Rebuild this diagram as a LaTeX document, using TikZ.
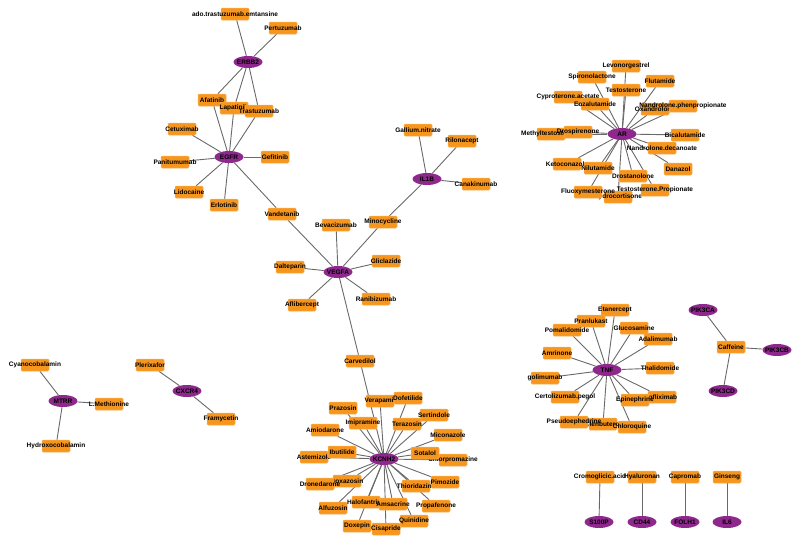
\documentclass[tikz,border=0pt]{standalone}
\usepackage{fontspec}
\newfontfamily\netfont{Liberation Sans}
\usepackage{tikz}
\usetikzlibrary{shapes.geometric,backgrounds}

\definecolor{genecol}{RGB}{142,40,140}
\definecolor{drugcol}{RGB}{247,150,30}
\definecolor{edgecol}{RGB}{105,105,105}

\begin{document}
\begin{tikzpicture}[x=1pt,y=-1pt,
    gene/.style={ellipse,fill=genecol,minimum width=29pt,minimum height=12pt,inner sep=0pt},
    drug/.style={rectangle,rounded corners=1.2pt,fill=drugcol,draw=drugcol!75!white,line width=0.5pt,minimum width=28pt,minimum height=12pt,inner sep=0pt},
    edge/.style={draw=edgecol,line width=0.9pt},
    every node/.style={font=\netfont\bfseries\fontsize{6.5}{7}\selectfont}]
  \useasboundingbox (0,0) rectangle (800,549);
  \newcommand{\nm}[1]{\makebox[0pt]{#1}}
  % genes
  \foreach \n/\x/\y/\t in {erbb2/248/62/ERBB2, egfr/229/157/EGFR, il1b/427/179/IL1B,
      vegfa/338/272/VEGFA, ar/622/134/AR, kcnh2/384/459/KCNH2, tnf/607/370/TNF,
      mtrr/63/401/MTRR, cxcr4/187/391/CXCR4, pik3ca/703/310/PIK3CA,
      pik3cb/777/350/PIK3CB, pik3cd/723/391/PIK3CD, s100p/599/522/S100P,
      cd44/642/522/CD44, folh1/685/522/FOLH1, il6/727/522/IL6} {
    \node[gene] (\n) at (\x,\y) {\nm{\t}};
  }
  % ERBB2 / EGFR drugs
  \foreach \n/\x/\y/\t in {ado/235/14/ado.trastuzumab.emtansine, pertuzumab/283/28/Pertuzumab,
      afatinib/212/100/Afatinib, lapatinib/234/108/Lapatinib, trastuzumab/259/111/Trastuzumab,
      cetuximab/182/129/Cetuximab, panitumumab/175/162/Panitumumab, gefitinib/275/157/Gefitinib,
      lidocaine/189/192/Lidocaine, erlotinib/224/205/Erlotinib, vandetanib/282/214/Vandetanib} {
    \node[drug] (\n) at (\x,\y) {\nm{\t}};
  }
  % IL1B / VEGFA drugs
  \foreach \n/\x/\y/\t in {gallium/418/130/Gallium.nitrate, rilonacept/462/141/Rilonacept,
      canakinumab/476/184/Canakinumab, minocycline/383/222/Minocycline,
      bevacizumab/336/225/Bevacizumab, gliclazide/386/261/Gliclazide,
      dalteparin/290/267/Dalteparin, ranibizumab/376/299/Ranibizumab,
      aflibercept/302/305/Aflibercept, carvedilol/360/361/Carvedilol} {
    \node[drug] (\n) at (\x,\y) {\nm{\t}};
  }
  % AR drugs
  \foreach \n/\x/\y/\t in {levonorgestrel/626/66/Levonorgestrel, spironolactone/592/77/Spironolactone,
      flutamide/660/81/Flutamide, testosterone/626/90/Testosterone,
      cyproterone/568/97/Cyproterone.acetate, enzalutamide/595/104/Enzalutamide,
      oxandrolone/655/109/Oxandrolone, nandrolonep/683/106/Nandrolone.phenpropionate,
      methyltestosterone/551/134/Methyltestosterone, drospirenone/578/132/Drospirenone,
      bicalutamide/685/135/Bicalutamide, nandrolone/662/148/Nandrolone.decanoate,
      danazol/678/169/Danazol, ketoconazole/567/164/Ketoconazole,
      nilutamide/598/168/Nilutamide, drostanolone/633/176/Drostanolone,
      hydrocortisone/618/197/Hydrocortisone, fluoxymesterone/588/192/Fluoxymesterone,
      testosteronep/655/190/Testosterone.Propionate} {
    \node[drug] (\n) at (\x,\y) {\nm{\t}};
  }
  % KCNH2 drugs
  \foreach \n/\x/\y/\t in {verapamil/380/401/Verapamil, dofetilide/408/398/Dofetilide,
      prazosin/343/408/Prazosin, imipramine/363/423/Imipramine, sertindole/434/415/Sertindole,
      terazosin/407/424/Terazosin, amiodarone/325/430/Amiodarone, miconazole/448/435/Miconazole,
      astemizole/314/457/Astemizole, ibutilide/342/452/Ibutilide,
      chlorpromazine/453/460/Chlorpromazine, sotalol/425/453/Sotalol,
      doxazosin/347/481/Doxazosin, dronedarone/320/484/Dronedarone,
      thioridazine/416/486/Thioridazine, pimozide/445/482/Pimozide,
      alfuzosin/333/508/Alfuzosin, halofantrine/366/502/Halofantrine,
      amsacrine/393/504/Amsacrine, propafenone/436/506/Propafenone,
      doxepin/357/526/Doxepin, quinidine/414/521/Quinidine, cisapride/386/529/Cisapride} {
    \node[drug] (\n) at (\x,\y) {\nm{\t}};
  }
  % TNF drugs
  \foreach \n/\x/\y/\t in {etanercept/615/310/Etanercept, pranlukast/591/321/Pranlukast,
      pomalidomide/567/330/Pomalidomide, glucosamine/634/328/Glucosamine,
      adalimumab/658/339/Adalimumab, amrinone/557/353/Amrinone,
      thalidomide/660/368/Thalidomide, golimumab/545/378/golimumab,
      certolizumab/565/397/Certolizumab.pegol, infliximab/662/397/Infliximab,
      epinephrine/635/400/Epinephrine, clenbuterol/603/424/Clenbuterol,
      pseudoephedrine/574/422/Pseudoephedrine, chloroquine/632/427/Chloroquine} {
    \node[drug] (\n) at (\x,\y) {\nm{\t}};
  }
  % small groups
  \foreach \n/\x/\y/\t in {cyanocobalamin/35/365/Cyanocobalamin, methionine/109/404/L.Methionine,
      hydroxocobalamin/56/446/Hydroxocobalamin, plerixafor/150/365/Plerixafor,
      framycetin/221/419/Framycetin, caffeine/731/347/Caffeine,
      cromoglicic/600/477/Cromoglicic.acid, hyaluronan/642/477/Hyaluronan,
      capromab/685/477/Capromab, ginseng/727/477/Ginseng} {
    \node[drug] (\n) at (\x,\y) {\nm{\t}};
  }
  % edges
  \begin{scope}[on background layer]
    \foreach \d in {ado,pertuzumab,afatinib,lapatinib,trastuzumab}
      \draw[edge] (erbb2) -- (\d);
    \foreach \d in {afatinib,lapatinib,trastuzumab,cetuximab,panitumumab,gefitinib,lidocaine,erlotinib,vandetanib}
      \draw[edge] (egfr) -- (\d);
    \foreach \d in {gallium,rilonacept,canakinumab,minocycline}
      \draw[edge] (il1b) -- (\d);
    \foreach \d in {vandetanib,bevacizumab,minocycline,gliclazide,dalteparin,ranibizumab,aflibercept,carvedilol}
      \draw[edge] (vegfa) -- (\d);
    \foreach \d in {levonorgestrel,spironolactone,flutamide,testosterone,cyproterone,enzalutamide,oxandrolone,nandrolonep,methyltestosterone,drospirenone,bicalutamide,nandrolone,danazol,ketoconazole,nilutamide,drostanolone,hydrocortisone,fluoxymesterone,testosteronep}
      \draw[edge] (ar) -- (\d);
    \foreach \d in {carvedilol,verapamil,dofetilide,prazosin,imipramine,sertindole,terazosin,amiodarone,miconazole,astemizole,ibutilide,chlorpromazine,sotalol,doxazosin,dronedarone,thioridazine,pimozide,alfuzosin,halofantrine,amsacrine,propafenone,doxepin,quinidine,cisapride}
      \draw[edge] (kcnh2) -- (\d);
    \foreach \d in {etanercept,pranlukast,pomalidomide,glucosamine,adalimumab,amrinone,thalidomide,golimumab,certolizumab,infliximab,epinephrine,clenbuterol,pseudoephedrine,chloroquine}
      \draw[edge] (tnf) -- (\d);
    \foreach \d in {cyanocobalamin,methionine,hydroxocobalamin}
      \draw[edge] (mtrr) -- (\d);
    \foreach \d in {plerixafor,framycetin}
      \draw[edge] (cxcr4) -- (\d);
    \foreach \g in {pik3ca,pik3cb,pik3cd}
      \draw[edge] (caffeine) -- (\g);
    \draw[edge] (cromoglicic) -- (s100p);
    \draw[edge] (hyaluronan) -- (cd44);
    \draw[edge] (capromab) -- (folh1);
    \draw[edge] (ginseng) -- (il6);
  \end{scope}
\end{tikzpicture}
\end{document}
